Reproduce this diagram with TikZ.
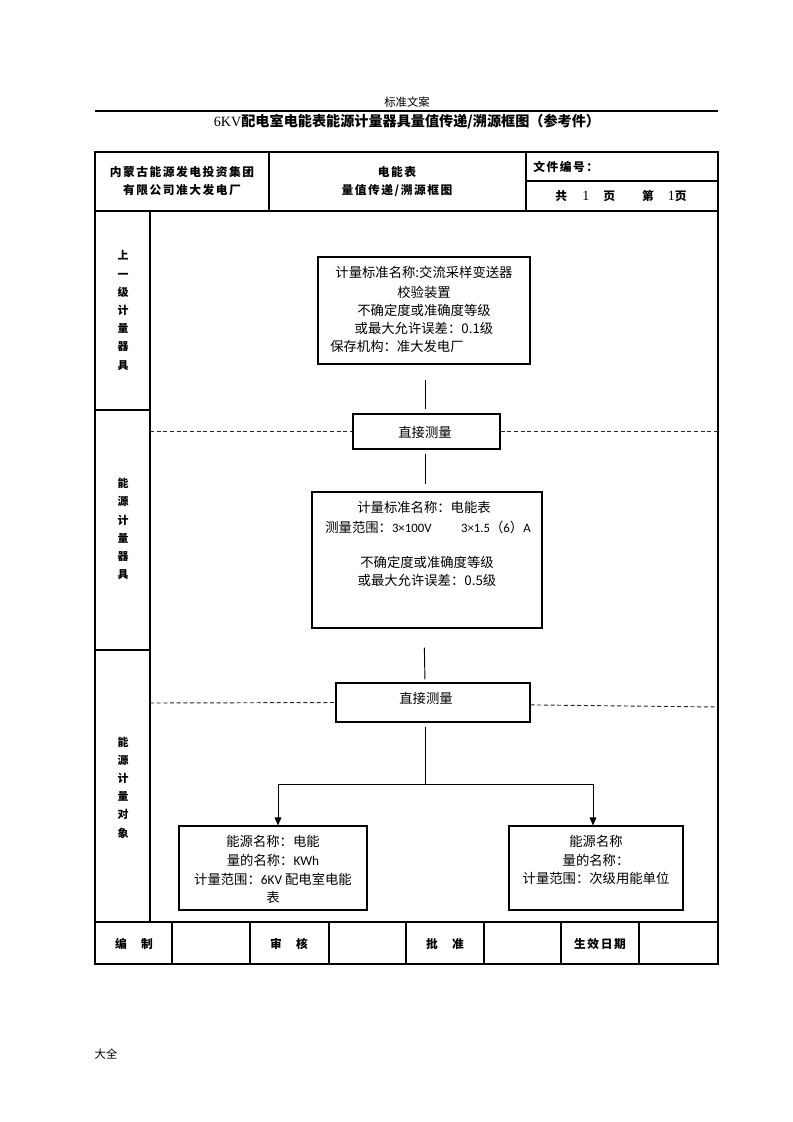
\documentclass[tikz,border=0pt]{standalone}
\usepackage{fontspec}
\setmainfont{Noto Sans CJK SC}
\newfontfamily\calfont{Carlito}
\newfontfamily\hdfont[LetterSpace=13]{Noto Sans CJK SC}
\newfontfamily\digfont{Liberation Serif}
\usetikzlibrary{arrows.meta}
\begin{document}
\begin{tikzpicture}[x=0.75pt,y=-0.75pt,
  tbl/.style={line width=0.8pt},
  bx/.style={draw,line width=0.8pt,inner sep=0pt},
  conn/.style={line width=0.7pt},
  dsh/.style={line width=0.7pt,black!85,dash pattern=on 3pt off 2pt},
  arr/.style={line width=0.7pt,-{Triangle[length=6pt,width=5pt]}},
  txt/.style={inner sep=0pt,font=\fontsize{10}{12}\selectfont},
  hd/.style={inner sep=0pt,font=\hdfont\bfseries\fontsize{8.8}{11}\selectfont},
  vlab/.style={inner sep=0pt,align=center,font=\bfseries\fontsize{8.2}{13.65}\selectfont}]
\useasboundingbox (0,0) rectangle (793,1122);
% page header
\node[inner sep=0pt,font=\fontsize{8.5}{10}\selectfont] (pghead) at (407,102) {标准文案};
\draw[line width=0.8pt] (95,111) -- (718,111);
\node[inner sep=0pt,font=\bfseries\fontsize{10.6}{12}\selectfont] (title) at (407,122) {{\digfont\mdseries 6KV}配电室电能表能源计量器具量值传递/溯源框图（参考件）};
% table
\draw[tbl] (95,152) rectangle (718,964);
\draw[tbl] (95,211) -- (718,211);
\draw[tbl] (95,922) -- (718,922);
\draw[tbl] (269,152) -- (269,211);
\draw[tbl] (526,152) -- (526,211);
\draw[tbl] (526,181) -- (718,181);
\draw[tbl] (150,211) -- (150,922);
\draw[tbl] (95,410) -- (150,410);
\draw[tbl] (95,650) -- (150,650);
\foreach \xx in {172,250,329,406,484,561,639} \draw[tbl] (\xx,922) -- (\xx,964);
% header texts
\node[hd] (h1) at (182,172) {内蒙古能源发电投资集团};
\node[hd] (h2) at (182,190) {有限公司准大发电厂};
\node[hd] (h3) at (397,172) {电能表};
\node[hd] (h4) at (397,190) {量值传递/溯源框图};
\node[hd,anchor=west] (h5) at (533,167) {文件编号：};
\node[hd] (h6) at (621,196) {共\hspace{1.3em}{\digfont\mdseries\fontsize{10.5}{11}\selectfont 1}\hspace{1.2em}页\hspace{2.3em}第\hspace{1.2em}{\digfont\mdseries\fontsize{10.5}{11}\selectfont 1}页};
% left labels
\node[vlab] (l1) at (123,310.5) {上\\一\\级\\计\\量\\器\\具};
\node[vlab] (l2) at (123,529) {能\\源\\计\\量\\器\\具};
\node[vlab] (l3) at (123,787.5) {能\\源\\计\\量\\对\\象};
% bottom labels
\node[hd] (f1) at (134,944) {编\hspace{1.2em}制};
\node[hd] (f2) at (289,944) {审\hspace{1.2em}核};
\node[hd] (f3) at (445,944) {批\hspace{1.2em}准};
\node[hd] (f4) at (600,944) {生效日期};
% boxes
\coordinate (axis) at (425,0);
\coordinate (axisb) at (424,0);
\coordinate (tl) at (150,0);
\coordinate (tr) at (718,0);
\coordinate (a4) at (278,0);
\coordinate (a5) at (593,0);
\node[bx,minimum width=159pt,minimum height=80.25pt] (b1) at (424,310.5) {};
\node[txt] (b1a) at (424,272) {计量标准名称:交流采样变送器};
\node[txt] (b1b) at (424,292) {校验装置};
\node[txt] (b1c) at (424,310) {不确定度或准确度等级};
\node[txt] (b1d) at (424,328) {或最大允许误差：0.1级};
\node[txt,anchor=west] (b1e) at (330,346) {保存机构：准大发电厂};
\node[bx,minimum width=110.25pt,minimum height=26.25pt] (m1) at (426.5,431.5) {};
\node[txt] (m1t) at (425,432) {直接测量};
\node[bx,minimum width=172.5pt,minimum height=102pt] (b2) at (427,560) {};
\node[txt] (b2a) at (424,507) {计量标准名称：电能表};
\node[txt] (b2b) at (428,527) {测量范围：{\calfont\fontsize{9.6}{10}\selectfont 3×100V\hspace{2.3em}3×1.5}（{\calfont\fontsize{9.6}{10}\selectfont 6}）{\calfont\fontsize{9.6}{10}\selectfont A}};
\node[txt] (b2c) at (427,562) {不确定度或准确度等级};
\node[txt] (b2d) at (427,580) {或最大允许误差：0.5级};
\node[bx,minimum width=145.5pt,minimum height=29.25pt] (m2) at (433,702.5) {};
\node[txt] (m2t) at (426,698) {直接测量};
\node[bx,minimum width=141pt,minimum height=63pt] (b4) at (273,868) {};
\node[txt] (b4a) at (273,841) {能源名称：电能};
\node[txt] (b4b) at (273,860) {量的名称：{\calfont KWh}};
\node[txt] (b4c) at (273,879) {计量范围：{\calfont 6KV} 配电室电能};
\node[txt] (b4d) at (273,897) {表};
\node[bx,minimum width=130.5pt,minimum height=63pt] (b5) at (596,868) {};
\node[txt] (b5a) at (596,841) {能源名称};
\node[txt] (b5b) at (596,860) {量的名称：};
\node[txt] (b5c) at (596,878) {计量范围：次级用能单位};
% connectors
\draw[conn,shorten <=11.25pt,shorten >=3pt] (b1.south -| axis) -- (m1.north -| axis);
\draw[conn,shorten <=3pt,shorten >=5.25pt] (m1.south -| axis) -- (b2.north -| axis);
\draw[conn,shorten <=14.25pt,shorten >=2.25pt] (b2.south -| axisb) -- (m2.north -| axis);
\coordinate (j) at (425,784);
\draw[conn,shorten <=3pt] (m2.south -| axis) -- (j);
\draw[arr] (j) -| (b4.north -| a4);
\draw[arr] (j) -| (b5.north -| a5);
% dashed lines
\draw[dsh] (m1.west -| tl) -- (m1.west);
\draw[dsh] (m1.east) -- (m1.east -| tr);
\draw[dsh] (150,703) -- (m2.west);
\draw[dsh] ([yshift=-1.8pt]m2.east) -- (718,707);
% footer
\node[inner sep=0pt,font=\fontsize{8.5}{10}\selectfont] (foot) at (106,1054) {大全};
\end{tikzpicture}
\end{document}
